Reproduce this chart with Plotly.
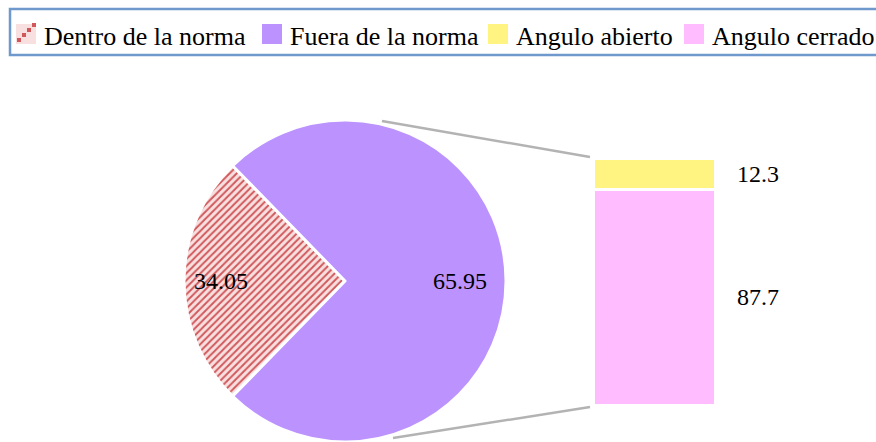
import math
import plotly.graph_objects as go

# ---------------- data ----------------
PIE_LABELS = ["Dentro de la norma", "Fuera de la norma"]
PIE_VALUES = [34.05, 65.95]          # values shown as slice labels
PIE_TEXT = ["34.05", "65.95"]

BAR_LABELS = ["Angulo abierto", "Angulo cerrado"]
BAR_VALUES = [12.3, 87.7]
BAR_TEXT = ["12.3", "87.7"]

# In a bar-of-pie chart the second slice is the "other" slice whose size is the
# sum of the values broken out in the bar.
PIE_SIZES = [PIE_VALUES[0], sum(BAR_VALUES)]

# ---------------- styling / layout constants ----------------
W, H = 876, 442
FONT = "'Liberation Serif', 'DejaVu Serif', serif"
PURPLE = "#BC92FF"
YELLOW = "#FFF382"
PINK = "#FFBDFF"
PAT_FG = "#D0575A"
PAT_BG = "#F8E0E0"
GRAY = "#B3B3B3"
BORDER = "#6F99CC"

PIE_CX, PIE_CY, PIE_R = 345, 281, 161          # pixels (y from top)
BAR_X0, BAR_X1, BAR_Y0, BAR_Y1 = 594, 715, 159, 405
LABEL_RADIUS = [0.77, 0.715]
CONNECT_ANGLES = [77, -73]


def px(x):
    return x / W


def py(y):
    return 1 - y / H


fig = go.Figure()

# pie
total = sum(PIE_SIZES)
first_share = PIE_SIZES[0] / total
rotation = 270 - first_share * 360 / 2
fig.add_trace(go.Pie(
    labels=PIE_LABELS, values=PIE_SIZES, sort=False, direction="clockwise",
    rotation=rotation, textinfo="none", hoverinfo="label+text",
    hovertext=PIE_TEXT,
    marker=dict(colors=[PAT_BG, PURPLE], line=dict(color="white", width=3),
                pattern=dict(shape=["/", ""], fgcolor=PAT_FG, bgcolor=PAT_BG,
                             size=5, solidity=0.38)),
    domain=dict(x=[px(PIE_CX - PIE_R), px(PIE_CX + PIE_R)],
                y=[max(0, py(PIE_CY + PIE_R)), py(PIE_CY - PIE_R)]),
    showlegend=False,
))

# stacked bar (bottom first)
bar_colors = {"Angulo abierto": YELLOW, "Angulo cerrado": PINK}
for lab, val in reversed(list(zip(BAR_LABELS, BAR_VALUES))):
    fig.add_trace(go.Bar(
        x=[0], y=[val], width=1, name=lab,
        marker=dict(color=bar_colors[lab], line=dict(color="white", width=2.5)),
        showlegend=False, hoverinfo="name+y",
    ))

annotations = []
# pie labels
cum = 0
for i, (v, t) in enumerate(zip(PIE_SIZES, PIE_TEXT)):
    mid = rotation + (cum + v / 2) / total * 360
    cum += v
    a = math.radians(mid)
    x = PIE_CX + LABEL_RADIUS[i] * PIE_R * math.sin(a)
    y = PIE_CY - LABEL_RADIUS[i] * PIE_R * math.cos(a)
    annotations.append(dict(x=px(x), y=py(y), xref="paper", yref="paper",
                            text=t, showarrow=False, xanchor="center", yanchor="middle",
                            font=dict(family=FONT, size=24, color="black")))

# bar labels
base = 0
stack_order = list(reversed(list(zip(BAR_VALUES, BAR_TEXT))))
for v, t in stack_order:
    annotations.append(dict(x=0.5, y=base + v / 2, xref="x", yref="y", text=t,
                            showarrow=False, xanchor="left", yanchor="middle", xshift=20,
                            font=dict(family=FONT, size=24, color="black")))
    base += v

# connector lines
shapes = []
ends = [(BAR_X0 - 4, BAR_Y0 - 2), (BAR_X0 - 4, BAR_Y1 + 2)]
for ang, (ex, ey) in zip(CONNECT_ANGLES, ends):
    a = math.radians(ang)
    sx = PIE_CX + 1.02 * PIE_R * math.cos(a)
    sy = PIE_CY - 1.02 * PIE_R * math.sin(a)
    shapes.append(dict(type="line", xref="paper", yref="paper",
                       x0=px(sx), y0=py(sy), x1=px(ex), y1=py(ey),
                       line=dict(color=GRAY, width=2.5)))

# manual legend
LEG_BOX = (10, 9, 900, 55)
LEG_X = [16, 262, 488, 684]
LEG_Y0, LEG_Y1 = 24, 44
shapes.append(dict(type="rect", xref="paper", yref="paper",
                   x0=px(LEG_BOX[0]), y0=py(LEG_BOX[1]), x1=px(LEG_BOX[2]), y1=py(LEG_BOX[3]),
                   line=dict(color=BORDER, width=2.5), fillcolor="rgba(0,0,0,0)"))
legend_items = [(PIE_LABELS[0], PAT_BG), (PIE_LABELS[1], PURPLE),
                (BAR_LABELS[0], YELLOW), (BAR_LABELS[1], PINK)]
for i, (lab, col) in enumerate(legend_items):
    x0 = LEG_X[i]
    shapes.append(dict(type="rect", xref="paper", yref="paper",
                       x0=px(x0), y0=py(LEG_Y0), x1=px(x0 + 20), y1=py(LEG_Y1),
                       line=dict(width=0), fillcolor=col))
    if i == 0:
        for k in range(4):
            dx = 1 + 5 * k
            dy = LEG_Y1 - 2 - 5 * k
            shapes.append(dict(type="rect", xref="paper", yref="paper",
                               x0=px(x0 + dx), y0=py(dy), x1=px(x0 + dx + 4), y1=py(dy - 4),
                               line=dict(width=0), fillcolor=PAT_FG))
    annotations.append(dict(x=px(x0 + 26), y=py(36), xref="paper", yref="paper",
                            text=lab, showarrow=False, xanchor="left", yanchor="middle",
                            font=dict(family=FONT, size=26, color="black")))

fig.update_layout(
    width=W, height=H, margin=dict(l=0, r=0, t=0, b=0),
    paper_bgcolor="white", plot_bgcolor="white",
    barmode="stack", showlegend=False,
    font=dict(family=FONT),
    xaxis=dict(domain=[px(BAR_X0), px(BAR_X1)], range=[-0.5, 0.5], visible=False,
               fixedrange=True),
    yaxis=dict(domain=[py(BAR_Y1), py(BAR_Y0)], range=[0, 100], visible=False,
               fixedrange=True),
    annotations=annotations, shapes=shapes,
)

fig.write_html("out.html", config={"displayModeBar": False},
               post_script="document.body.style.margin='0';document.body.style.overflow='hidden';")
